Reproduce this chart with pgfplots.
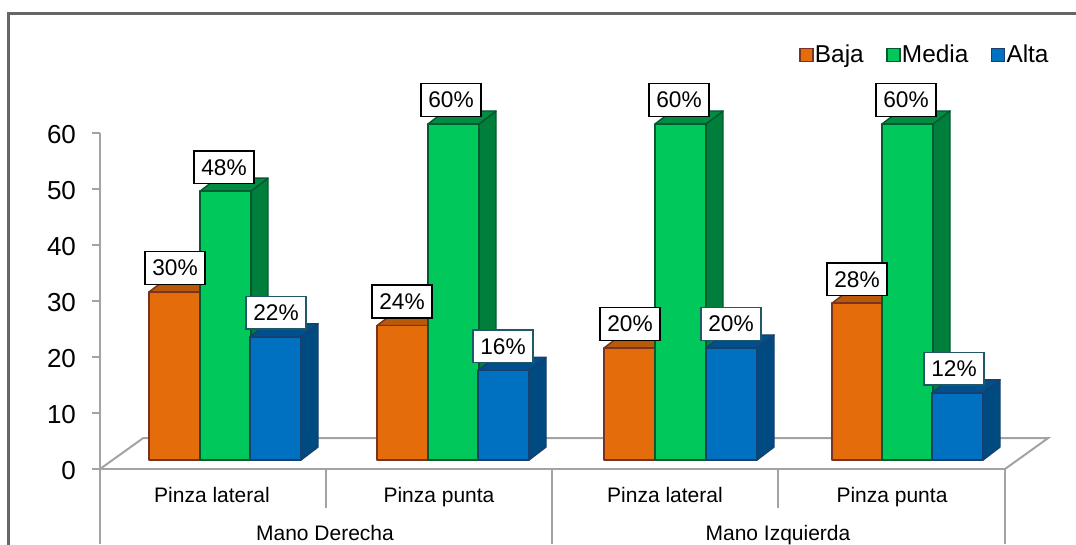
\documentclass[border=0pt]{standalone}
\usepackage{fontspec}
\setmainfont{Liberation Sans}
\usepackage{pgfplots}
\pgfplotsset{compat=1.18}
\definecolor{gridgray}{HTML}{A3A3A3}
\definecolor{framegray}{HTML}{666666}
\definecolor{oF}{HTML}{E46C0A}\definecolor{oS}{HTML}{A85006}\definecolor{oT}{HTML}{B85A08}\definecolor{oE}{HTML}{7A3320}
\definecolor{gF}{HTML}{00C85A}\definecolor{gS}{HTML}{007F3C}\definecolor{gT}{HTML}{008C42}\definecolor{gE}{HTML}{035A2E}
\definecolor{bF}{HTML}{0070C0}\definecolor{bS}{HTML}{004A82}\definecolor{bT}{HTML}{00508E}\definecolor{bE}{HTML}{17406E}
\definecolor{teal}{HTML}{215868}
% x (pixel-like position of left edge), value, colour prefix
\newcommand{\threedbar}[3]{%
  \addplot[forget plot,draw=#3E,fill=#3S,line width=1.1pt,line join=round] coordinates {({#1+51},0) ({#1+68},2.32) ({#1+68},{#2+2.32}) ({#1+51},#2)} -- cycle;
  \addplot[forget plot,draw=#3E,fill=#3T,line width=1.1pt,line join=round] coordinates {(#1,#2) ({#1+17},{#2+2.32}) ({#1+68},{#2+2.32}) ({#1+51},#2)} -- cycle;
  \addplot[forget plot,draw=#3E,fill=#3F,line width=1.1pt,line join=round] coordinates {(#1,0) (#1,#2) ({#1+51},#2) ({#1+51},0)} -- cycle;
}
\newcommand{\barlabel}[3]{%
  \node[draw=#3,fill=white,line width=1.1pt,inner xsep=5.6pt,inner ysep=0pt,text height=12pt,text depth=0pt,minimum height=24.5pt,font=\fontsize{17}{18}\selectfont] at (axis cs:{#1+25},{#2+4.3}) {#2\%};
}
\begin{document}
\begin{tikzpicture}[x=1pt,y=1pt]
\path[use as bounding box] (0,0) rectangle (807,408.75);
\draw[framegray,line width=2.25pt] (6,0) -- (6,398.25) -- (807,398.25);
\begin{axis}[
  at={(75pt,57pt)},anchor=south west,scale only axis,
  width=678.75pt,height=252pt,
  xmin=100,xmax=1005,ymin=0,ymax=60,clip=false,
  axis x line=bottom,axis y line=left,
  axis line style={-,gridgray,line width=1.5pt},
  xtick=\empty,ytick={0,10,20,30,40,50,60},
  tick align=outside,major tick length=6pt,
  tick style={gridgray,line width=1.5pt},
  /pgf/number format/assume math mode=true,
  yticklabel style={font=\fontsize{19.5}{20}\selectfont,xshift=-8.5pt,yshift=-1pt},
]
\addplot[forget plot,gridgray,line width=1.5pt] coordinates {(100,0) (143,5.5) (1048,5.5) (1005,0)};
\addplot[forget plot,gridgray,line width=1.5pt] coordinates {(100,0) (100,-13.39)};
\addplot[forget plot,gridgray,line width=1.5pt] coordinates {(326,0) (326,-7)};
\addplot[forget plot,gridgray,line width=1.5pt] coordinates {(552,0) (552,-13.39)};
\addplot[forget plot,gridgray,line width=1.5pt] coordinates {(778,0) (778,-7)};
\addplot[forget plot,gridgray,line width=1.5pt] coordinates {(1005,0) (1005,-13.39)};
\begin{scope}[every node/.style={font=\fontsize{15.75}{18}\selectfont,inner sep=0pt,anchor=base}]
\node at (axis cs:212,-5.9) {Pinza lateral};
\node at (axis cs:439,-5.9) {Pinza punta};
\node at (axis cs:665,-5.9) {Pinza lateral};
\node at (axis cs:892,-5.9) {Pinza punta};
\node at (axis cs:325,-12.7) {Mano Derecha};
\node at (axis cs:778,-12.7) {Mano Izquierda};
\end{scope}
\end{axis}
\begin{axis}[
  at={(75pt,63.75pt)},anchor=south west,scale only axis,
  width=678.75pt,height=252pt,
  xmin=100,xmax=1005,ymin=0,ymax=60,clip=false,
  axis lines=none,ticks=none,
  legend columns=3,
  legend style={draw=none,fill=none,at={(0.912,1.205)},anchor=center,
    font=\fontsize{18.3}{19}\selectfont,
    /tikz/every even column/.append style={column sep=16pt},
    inner sep=0pt,nodes={inner sep=1.5pt}},
  legend image post style={xshift=-3pt},
]
\addlegendimage{only marks,mark=square*,mark size=4.8pt,mark options={draw=oE,fill=oF,line width=1.1pt}}
\addlegendentry{Baja}
\addlegendimage{only marks,mark=square*,mark size=4.8pt,mark options={draw=gE,fill=gF,line width=1.1pt}}
\addlegendentry{Media}
\addlegendimage{only marks,mark=square*,mark size=4.8pt,mark options={draw=bE,fill=bF,line width=1.1pt}}
\addlegendentry{Alta}
\threedbar{149}{30}{o}\threedbar{200}{48}{g}\threedbar{250}{22}{b}
\threedbar{377}{24}{o}\threedbar{428}{60}{g}\threedbar{478}{16}{b}
\threedbar{604}{20}{o}\threedbar{655}{60}{g}\threedbar{706}{20}{b}
\threedbar{832}{28}{o}\threedbar{882}{60}{g}\threedbar{932}{12}{b}
\barlabel{150}{30}{black}\barlabel{199}{48}{black}\barlabel{251}{22}{teal}
\barlabel{377}{24}{black}\barlabel{426}{60}{black}\barlabel{478}{16}{teal}
\barlabel{605}{20}{black}\barlabel{654}{60}{black}\barlabel{706}{20}{teal}
\barlabel{832}{28}{black}\barlabel{881}{60}{black}\barlabel{929}{12}{teal}
\end{axis}
\end{tikzpicture}
\end{document}
